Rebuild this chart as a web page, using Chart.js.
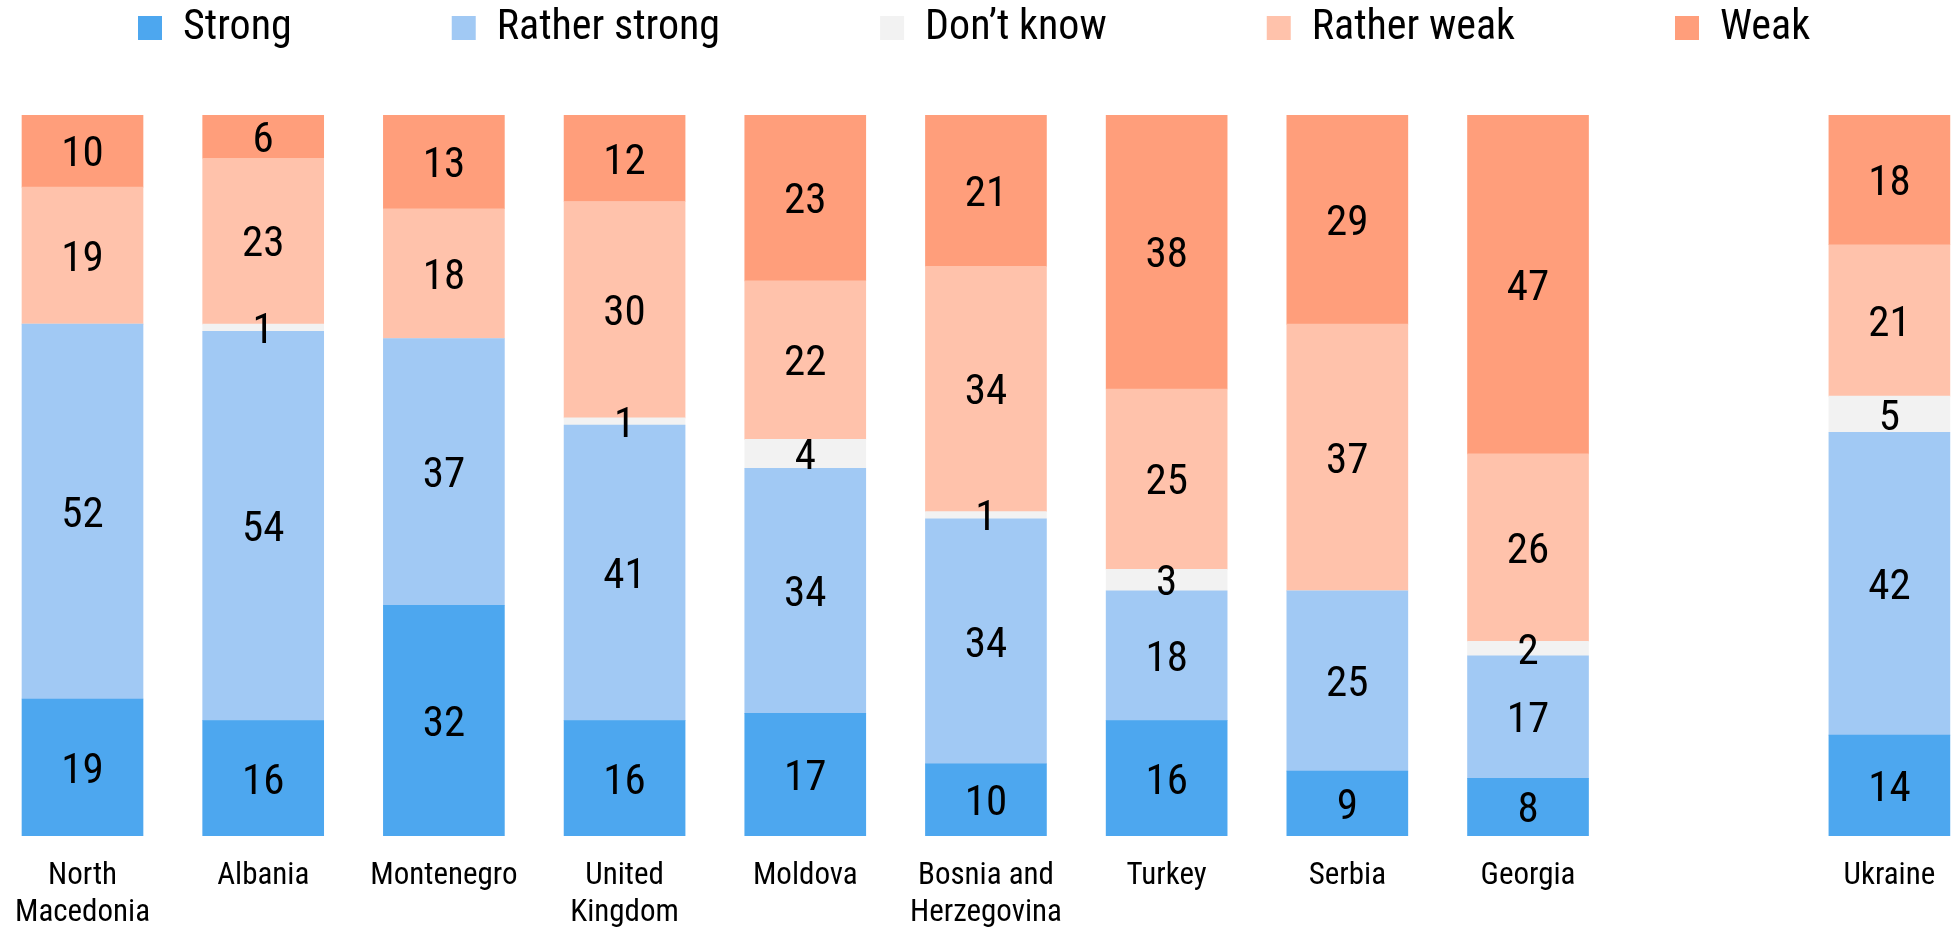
<!DOCTYPE html>
<html>
<head>
<meta charset="utf-8">
<script src="https://cdn.jsdelivr.net/npm/chart.js@4/dist/chart.umd.min.js"></script>
<style>
  html, body { margin: 0; padding: 0; background: #fff; }
  #wrap { width: 1954px; height: 931px; position: relative; }
</style>
</head>
<body>
<div id="wrap"><canvas id="strengthChart"></canvas></div>
<script>
// categories (empty slot before Ukraine leaves the gap)
var countries = [['North', 'Macedonia'], 'Albania', 'Montenegro', ['United', 'Kingdom'], 'Moldova',
  ['Bosnia and', 'Herzegovina'], 'Turkey', 'Serbia', 'Georgia', '', 'Ukraine'];

var strong       = [19, 16, 32, 16, 17, 10, 16,  9,  8, null, 14];
var ratherStrong = [52, 54, 37, 41, 34, 34, 18, 25, 17, null, 42];
var dontKnow     = [ 0,  1,  0,  1,  4,  1,  3,  0,  2, null,  5];
var ratherWeak   = [19, 23, 18, 30, 22, 34, 25, 37, 26, null, 21];
var weak         = [10,  6, 13, 12, 23, 21, 38, 29, 47, null, 18];

var seriesNames = ['Strong', 'Rather strong', 'Don\u2019t know', 'Rather weak', 'Weak'];
var seriesColors = ['#4da7ef', '#a1c9f4', '#f2f2f2', '#ffc2ab', '#ff9e7b'];

var fontFamily = "'Roboto Condensed', Roboto, 'Liberation Sans Narrow', sans-serif";

function points(values) {
  return values.map(function(v, i) { return {x: i, y: v}; });
}

// numbers in the middle of every segment
var segmentLabels = {
  id: 'segmentLabels',
  afterDatasetsDraw: function(chart) {
    var ctx = chart.ctx;
    var size = 43;
    ctx.save();
    ctx.font = 'condensed ' + size + 'px ' + fontFamily;
    ctx.fillStyle = '#000';
    ctx.textAlign = 'center';
    ctx.textBaseline = 'alphabetic';
    chart.data.datasets.forEach(function(ds, di) {
      var meta = chart.getDatasetMeta(di);
      meta.data.forEach(function(bar, i) {
        var v = ds.data[i].y;
        if (!v) return;
        var p = bar.getProps(['x', 'y', 'base'], true);
        // digits centred on the segment middle
        ctx.fillText(v, p.x, (p.y + p.base) / 2 + size * 0.711 / 2);
      });
    });
    ctx.restore();
  }
};

// legend in one row starting at a fixed x, plot top pinned
var legendFit = {
  id: 'legendFit',
  beforeInit: function(chart) {
    var fit = chart.legend.fit;
    chart.legend.fit = function() {
      this.maxWidth = 4000;
      fit.call(this);
      this.width = chart.width;
      this.height = 115;
    };
  },
  afterLayout: function(chart) {
    var pad = chart.legend.options.labels.padding;
    chart.legend.top = 7 - pad;
    chart.legend.left = 138 - pad;
    chart.legend.right = 4000;
  }
};

var ctx = document.getElementById('strengthChart').getContext('2d');
var strengthChart = new Chart(ctx, {
  type: 'bar',
  data: {
    datasets: [
      {label: seriesNames[0], data: points(strong), backgroundColor: seriesColors[0]},
      {label: seriesNames[1], data: points(ratherStrong), backgroundColor: seriesColors[1]},
      {label: seriesNames[2], data: points(dontKnow), backgroundColor: seriesColors[2]},
      {label: seriesNames[3], data: points(ratherWeak), backgroundColor: seriesColors[3]},
      {label: seriesNames[4], data: points(weak), backgroundColor: seriesColors[4]}
    ]
  },
  plugins: [segmentLabels, legendFit],
  options: {
    responsive: true,
    maintainAspectRatio: false,
    animation: false,
    layout: { padding: 0 },
    datasets: {
      bar: { barThickness: 121, borderWidth: 0 }
    },
    plugins: {
      legend: {
        position: 'top',
        align: 'start',
        labels: {
          boxWidth: 24,
          boxHeight: 24,
          padding: 160,
          color: '#000',
          font: { family: fontFamily, size: 42, weight: 'condensed' }
        }
      },
      tooltip: { enabled: false }
    },
    scales: {
      x: {
        type: 'linear',
        stacked: true,
        offset: false,
        min: -0.4566,
        max: 10.3575,
        grid: { display: false, drawTicks: false, offset: false },
        border: { display: false },
        afterBuildTicks: function(scale) {
          scale.ticks = countries.map(function(c, i) { return {value: i}; });
        },
        afterFit: function(scale) {
          scale.height = 95;
          scale.paddingLeft = 0;
          scale.paddingRight = 0;
        },
        ticks: {
          autoSkip: false,
          maxRotation: 0,
          padding: 22,
          color: '#000',
          font: { family: fontFamily, size: 31, weight: 'condensed', lineHeight: 1.19 },
          callback: function(val) {
            return countries[val];
          }
        }
      },
      y: {
        display: false,
        stacked: true,
        min: 0,
        max: 100
      }
    }
  }
});
</script>
</body>
</html>
